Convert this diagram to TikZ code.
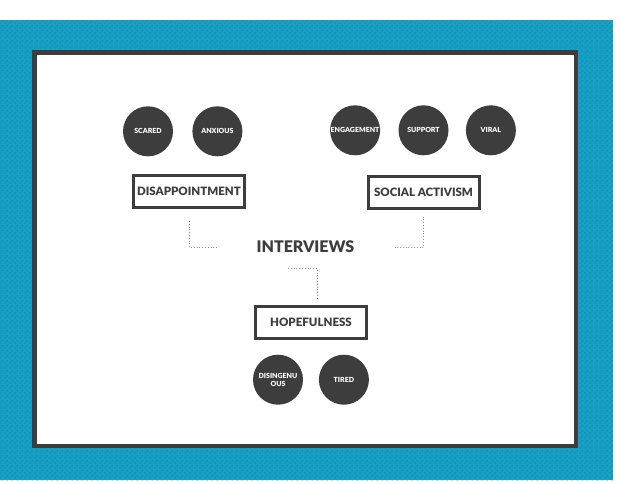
\documentclass[tikz,border=0pt]{standalone}
\usepackage{fontspec}
\setmainfont{Lato}[BoldFont={Lato Black}]
\usetikzlibrary{positioning, patterns.meta}
\definecolor{ivBlue}{HTML}{179FC4}
\definecolor{ivDot}{HTML}{0B7897}
\definecolor{ivInk}{HTML}{3D3D3D}
\definecolor{ivLink}{HTML}{8F8F8F}
\tikzdeclarepattern{
  name=bgdots,
  type=uncolored,
  bounding box={(0pt,0pt) and (5pt,5pt)},
  tile size={(5pt,5pt)},
  code={
    \fill (1.25pt,1.25pt) circle (0.7pt);
    \fill (3.75pt,3.75pt) circle (0.7pt);
  }
}
\tikzset{
  iv/.style={x=1pt, y=-1pt, font=\bfseries},
  frame/.style={draw=ivInk, line width=4.5pt, fill=white},
  title/.style={text=ivInk, inner sep=0pt, font=\fontsize{16}{18}\selectfont\bfseries},
  theme/.style={draw=ivInk, line width=3pt, minimum width=111pt, minimum height=32pt, inner sep=0pt, text=ivInk, font=\fontsize{11.5}{14}\selectfont\bfseries},
  mood/.style={circle, fill=ivInk, minimum size=50pt, inner sep=0pt, text=white, align=center, font=\fontsize{7}{8}\selectfont\bfseries},
  link/.style={draw=ivLink, dotted, line width=0.8pt},
}

\begin{document}
\begin{tikzpicture}[
  iv,
]
\useasboundingbox (0,0) rectangle (620,483);
\fill[ivBlue] (0,20) rectangle (613,480);
\fill[pattern=bgdots, pattern color=ivDot] (0,20) rectangle (613,480);
\draw[frame] (34.25,52.25) rectangle (575.75,445.75);

\node[title] (interviews) at (305.5,247) {INTERVIEWS};

\node[theme] (disappoint) at (189,191.5) {DISAPPOINTMENT};
\node[theme] (activism) at (423.5,192) {SOCIAL ACTIVISM};
\node[theme] (hope) at (311,322) {HOPEFULNESS};

\node[mood, above=17.5pt of disappoint, xshift=-41pt] (scared) {SCARED};
\node[mood, right=19pt of scared] (anxious) {ANXIOUS};

\node[mood, above=19pt of activism] (support) {SUPPORT};
\node[mood, left=18pt of support] (engagement) {ENGAGEMENT};
\node[mood, right=17pt of support] (viral) {VIRAL};

\node[mood, below=15pt of hope, xshift=-33pt] (disingenuous) {DISINGENU\\OUS};
\node[mood, right=15.5pt of disingenuous] (tired) {TIRED};

\draw[link, shorten <=12pt, shorten >=40pt] (disappoint.south) |- (interviews.west);
\draw[link, shorten <=7pt, shorten >=40pt] (activism.south) |- (interviews.east);
\coordinate (hopetail) at (288,268);
\draw[link, shorten >=6pt] (hopetail) -| ([xshift=6pt]hope.north);
\end{tikzpicture}
\end{document}
